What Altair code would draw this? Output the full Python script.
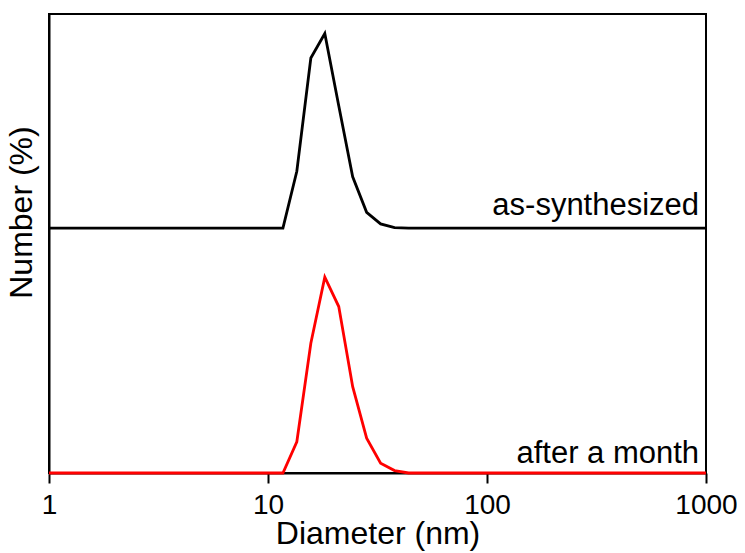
import altair as alt
import pandas as pd

# Diameter bins (nm)
diameter = [1, 11.7, 13.54, 15.69, 18.17, 21.04, 24.36, 28.21, 32.67, 37.84, 43.82, 1000]
# Number (%) per bin
as_synth = [0, 0, 9.3, 27.8, 31.8, 20.0, 8.4, 2.6, 0.7, 0.1, 0, 0]
after_month = [0, 0, 5.1, 21.2, 32.0, 27.2, 14.1, 5.7, 1.6, 0.4, 0, 0]
offset_as_synth = 40  # vertical offset of the upper curve

series_names = ["as-synthesized", "after a month"]
series_colors = ["#000000", "#ff0000"]

label_x = [930, 930]
label_y = [42.2, 1.6]

rows = []
for d, v in zip(diameter, as_synth):
    rows.append({"d": d, "v": v + offset_as_synth, "s": "as-synthesized", "o": 0})
for d, v in zip(diameter, after_month):
    rows.append({"d": d, "v": v, "s": "after a month", "o": 1})
df = pd.DataFrame(rows)

labels = pd.DataFrame({"x": label_x, "y": label_y, "t": series_names})

FONT = "Liberation Sans, Arial, Helvetica, sans-serif"

xscale = alt.Scale(type="log", domain=[1, 1000])
yscale = alt.Scale(domain=[0, 75])

lines = alt.Chart(df).mark_line(strokeWidth=2.8, strokeJoin="miter").encode(
    x=alt.X("d:Q", scale=xscale,
            axis=alt.Axis(title="Diameter (nm)", values=[1, 10, 100, 1000], format="d",
                          grid=False, tickSize=10, tickWidth=2, domainWidth=2,
                          domainColor="black", tickColor="black", labelColor="black",
                          labelFontSize=28, labelFont=FONT, labelPadding=8,
                          titleFontSize=32, titleFont=FONT, titleFontWeight="normal",
                          titleColor="black", titlePadding=-1, labelFlush=False)),
    y=alt.Y("v:Q", scale=yscale,
            axis=alt.Axis(title="Number (%)", labels=False, ticks=False, grid=False,
                          domainWidth=2, domainColor="black",
                          titleFontSize=32, titleFont=FONT, titleFontWeight="normal",
                          titleColor="black", titlePadding=11, titleY=198)),
    color=alt.Color("s:N", scale=alt.Scale(domain=series_names, range=series_colors), legend=None),
    order=alt.Order("o:Q"),
    detail="s:N",
)

text = alt.Chart(labels).mark_text(align="right", baseline="alphabetic", fontSize=31,
                                   font=FONT, color="black").encode(
    x=alt.X("x:Q", scale=xscale),
    y=alt.Y("y:Q", scale=yscale),
    text="t:N",
)

chart = alt.layer(lines, text).properties(
    width=657, height=459,
    autosize=alt.AutoSizeParams(type="none"),
    padding={"left": 41, "top": 6, "right": 31, "bottom": 80},
    background="white",
).configure_view(stroke="black", strokeWidth=2)

chart.save("out.html", embed_options={"renderer": "svg", "actions": False})
